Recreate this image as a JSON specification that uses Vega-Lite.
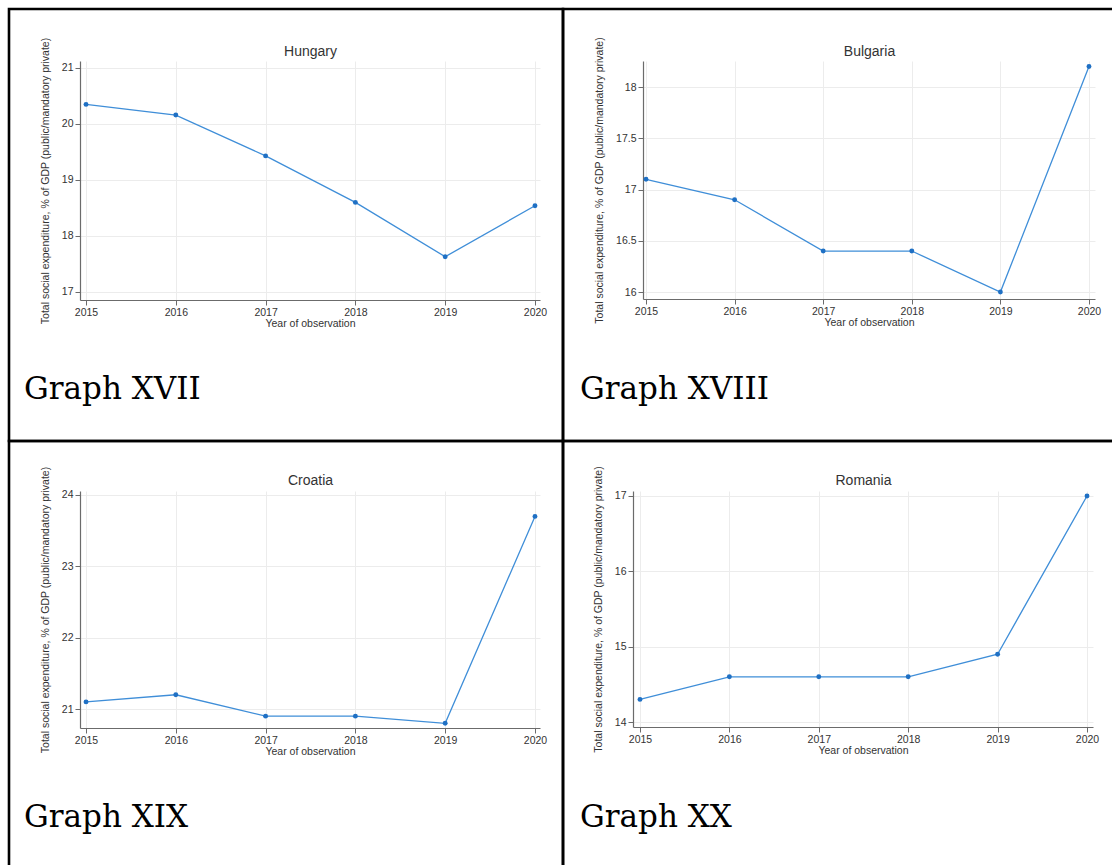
{
  "$schema": "https://vega.github.io/schema/vega-lite/v6.json",
  "background": "white",
  "padding": {"left": 7, "top": 7, "right": 0, "bottom": 0},
  "datasets": {
    "spend": [
      {"country": "Hungary", "year": 2015, "value": 20.35},
      {"country": "Hungary", "year": 2016, "value": 20.16},
      {"country": "Hungary", "year": 2017, "value": 19.43},
      {"country": "Hungary", "year": 2018, "value": 18.6},
      {"country": "Hungary", "year": 2019, "value": 17.63},
      {"country": "Hungary", "year": 2020, "value": 18.54},
      {"country": "Bulgaria", "year": 2015, "value": 17.1},
      {"country": "Bulgaria", "year": 2016, "value": 16.9},
      {"country": "Bulgaria", "year": 2017, "value": 16.4},
      {"country": "Bulgaria", "year": 2018, "value": 16.4},
      {"country": "Bulgaria", "year": 2019, "value": 16.0},
      {"country": "Bulgaria", "year": 2020, "value": 18.2},
      {"country": "Croatia", "year": 2015, "value": 21.1},
      {"country": "Croatia", "year": 2016, "value": 21.2},
      {"country": "Croatia", "year": 2017, "value": 20.9},
      {"country": "Croatia", "year": 2018, "value": 20.9},
      {"country": "Croatia", "year": 2019, "value": 20.8},
      {"country": "Croatia", "year": 2020, "value": 23.7},
      {"country": "Romania", "year": 2015, "value": 14.3},
      {"country": "Romania", "year": 2016, "value": 14.6},
      {"country": "Romania", "year": 2017, "value": 14.6},
      {"country": "Romania", "year": 2018, "value": 14.6},
      {"country": "Romania", "year": 2019, "value": 14.9},
      {"country": "Romania", "year": 2020, "value": 17.0}
    ]
  },
  "config": {
    "view": {"stroke": "black", "strokeWidth": 2.6},
    "font": "Liberation Sans",
    "axis": {
      "domainColor": "#6b6b6b",
      "domainWidth": 1.2,
      "tickColor": "#6b6b6b",
      "tickSize": 5,
      "labelColor": "#333333",
      "labelFont": "Liberation Sans",
      "labelFontSize": 10.5,
      "labelFlush": false,
      "labelOverlap": false,
      "labelPadding": 2,
      "titleColor": "#333333",
      "titleFont": "Liberation Sans",
      "titleFontSize": 10.5,
      "titleFontWeight": "normal",
      "gridColor": "#ececec",
      "gridWidth": 1
    },
    "title": {
      "font": "DejaVu Serif",
      "fontSize": 31,
      "fontWeight": "normal",
      "color": "black",
      "orient": "bottom",
      "anchor": "start",
      "frame": "group"
    }
  },
  "columns": 2,
  "spacing": 0,
  "bounds": "flush",
  "concat": [
    {
      "width": 554,
      "height": 432,
      "title": {"text": "Graph XVII", "offset": -66, "dx": 15},
      "data": {"name": "spend"},
      "transform": [{"filter": "datum.country === 'Hungary'"}],
      "encoding": {
        "y": {
          "field": "value", "type": "quantitative",
          "scale": {"domain": [16.857, 21.125], "range": [291, 52], "zero": false, "nice": false},
          "axis": {"values": [17, 18, 19, 20, 21], "format": "~g", "offset": -71, "titlePadding": 11,
                   "title": "Total social expenditure, % of GDP (public/mandatory private)"}
        }
      },
      "layer": [
        {
          "mark": {"type": "line", "color": "#3f8ed8", "strokeWidth": 1.3},
          "encoding": {
            "x": {
              "field": "year", "type": "quantitative",
              "scale": {"domain": [2014.933, 2020.056], "range": [71, 531], "zero": false, "nice": false},
              "axis": {"values": [2015, 2016, 2017, 2018, 2019, 2020], "format": "d", "offset": -141,
                       "grid": false, "title": "Year of observation", "titlePadding": 1}
            }
          }
        },
        {
          "mark": {"type": "point", "filled": true, "color": "#1f70c4", "size": 24, "opacity": 1},
          "encoding": {
            "x": {
              "field": "year", "type": "quantitative",
              "scale": {"domain": [2014.933, 2020.056], "range": [71, 531], "zero": false, "nice": false},
              "axis": {"orient": "top", "offset": -52, "title": "Hungary", "titleFontSize": 14,
                       "values": [2015, 2016, 2017, 2018, 2019, 2020], "grid": true,
                       "titlePadding": 3, "labels": false, "ticks": false, "domain": false}
            }
          }
        }
      ],
      "resolve": {"scale": {"x": "independent"}}
    },
    {
      "width": 554,
      "height": 432,
      "title": {"text": "Graph XVIII", "offset": -66, "dx": 17},
      "data": {"name": "spend"},
      "transform": [{"filter": "datum.country === 'Bulgaria'"}],
      "encoding": {
        "y": {
          "field": "value", "type": "quantitative",
          "scale": {"domain": [15.932, 18.254], "range": [290, 52], "zero": false, "nice": false},
          "axis": {"values": [16, 16.5, 17, 17.5, 18], "format": "~g", "offset": -80, "titlePadding": 11,
                   "title": "Total social expenditure, % of GDP (public/mandatory private)"}
        }
      },
      "layer": [
        {
          "mark": {"type": "line", "color": "#3f8ed8", "strokeWidth": 1.3},
          "encoding": {
            "x": {
              "field": "year", "type": "quantitative",
              "scale": {"domain": [2014.966, 2020.068], "range": [80, 532], "zero": false, "nice": false},
              "axis": {"values": [2015, 2016, 2017, 2018, 2019, 2020], "format": "d", "offset": -142,
                       "grid": false, "title": "Year of observation", "titlePadding": 1}
            }
          }
        },
        {
          "mark": {"type": "point", "filled": true, "color": "#1f70c4", "size": 24, "opacity": 1},
          "encoding": {
            "x": {
              "field": "year", "type": "quantitative",
              "scale": {"domain": [2014.966, 2020.068], "range": [80, 532], "zero": false, "nice": false},
              "axis": {"orient": "top", "offset": -52, "title": "Bulgaria", "titleFontSize": 14,
                       "values": [2015, 2016, 2017, 2018, 2019, 2020], "grid": true,
                       "titlePadding": 3, "labels": false, "ticks": false, "domain": false}
            }
          }
        }
      ],
      "resolve": {"scale": {"x": "independent"}}
    },
    {
      "width": 554,
      "height": 432,
      "title": {"text": "Graph XIX", "offset": -70, "dx": 15},
      "data": {"name": "spend"},
      "transform": [{"filter": "datum.country === 'Croatia'"}],
      "encoding": {
        "y": {
          "field": "value", "type": "quantitative",
          "scale": {"domain": [20.734, 24.056], "range": [287, 50], "zero": false, "nice": false},
          "axis": {"values": [21, 22, 23, 24], "format": "~g", "offset": -71, "titlePadding": 11,
                   "title": "Total social expenditure, % of GDP (public/mandatory private)"}
        }
      },
      "layer": [
        {
          "mark": {"type": "line", "color": "#3f8ed8", "strokeWidth": 1.3},
          "encoding": {
            "x": {
              "field": "year", "type": "quantitative",
              "scale": {"domain": [2014.933, 2020.056], "range": [71, 531], "zero": false, "nice": false},
              "axis": {"values": [2015, 2016, 2017, 2018, 2019, 2020], "format": "d", "offset": -145,
                       "grid": false, "title": "Year of observation", "titlePadding": 1}
            }
          }
        },
        {
          "mark": {"type": "point", "filled": true, "color": "#1f70c4", "size": 24, "opacity": 1},
          "encoding": {
            "x": {
              "field": "year", "type": "quantitative",
              "scale": {"domain": [2014.933, 2020.056], "range": [71, 531], "zero": false, "nice": false},
              "axis": {"orient": "top", "offset": -50, "title": "Croatia", "titleFontSize": 14,
                       "values": [2015, 2016, 2017, 2018, 2019, 2020], "grid": true,
                       "titlePadding": 4, "labels": false, "ticks": false, "domain": false}
            }
          }
        }
      ],
      "resolve": {"scale": {"x": "independent"}}
    },
    {
      "width": 554,
      "height": 432,
      "title": {"text": "Graph XX", "offset": -70, "dx": 17},
      "data": {"name": "spend"},
      "transform": [{"filter": "datum.country === 'Romania'"}],
      "encoding": {
        "y": {
          "field": "value", "type": "quantitative",
          "scale": {"domain": [13.934, 17.066], "range": [286, 50], "zero": false, "nice": false},
          "axis": {"values": [14, 15, 16, 17], "format": "~g", "offset": -70, "titlePadding": 11,
                   "title": "Total social expenditure, % of GDP (public/mandatory private)"}
        }
      },
      "layer": [
        {
          "mark": {"type": "line", "color": "#3f8ed8", "strokeWidth": 1.3},
          "encoding": {
            "x": {
              "field": "year", "type": "quantitative",
              "scale": {"domain": [2014.922, 2020.067], "range": [70, 530], "zero": false, "nice": false},
              "axis": {"values": [2015, 2016, 2017, 2018, 2019, 2020], "format": "d", "offset": -146,
                       "grid": false, "title": "Year of observation", "titlePadding": 1}
            }
          }
        },
        {
          "mark": {"type": "point", "filled": true, "color": "#1f70c4", "size": 24, "opacity": 1},
          "encoding": {
            "x": {
              "field": "year", "type": "quantitative",
              "scale": {"domain": [2014.922, 2020.067], "range": [70, 530], "zero": false, "nice": false},
              "axis": {"orient": "top", "offset": -50, "title": "Romania", "titleFontSize": 14,
                       "values": [2015, 2016, 2017, 2018, 2019, 2020], "grid": true,
                       "titlePadding": 4, "labels": false, "ticks": false, "domain": false}
            }
          }
        }
      ],
      "resolve": {"scale": {"x": "independent"}}
    }
  ]
}
